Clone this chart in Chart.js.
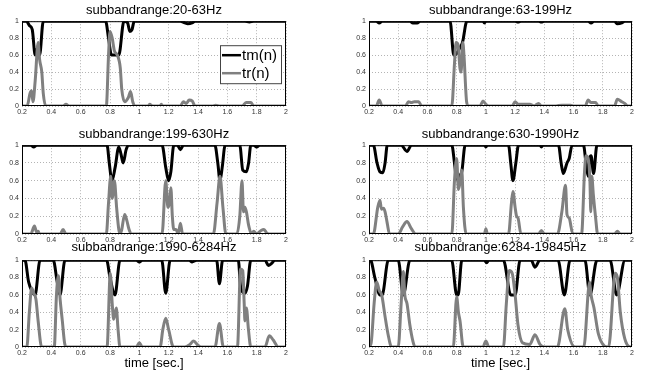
<!DOCTYPE html>
<html>
<head>
<meta charset="utf-8">
<script src="https://cdn.jsdelivr.net/npm/chart.js@4"></script>
<style>
  body { margin: 0; background: #fff; font-family: "Liberation Sans", Arial, sans-serif; }
  #wrap { position: relative; width: 650px; height: 378px; overflow: hidden; }
  canvas { position: absolute; }
  .ttl { position: absolute; font-size: 13px; color: #000; text-align: center; white-space: nowrap; line-height: 14px; }
</style>
</head>
<body>
<div id="wrap"></div>
<script>
// tick labels
const xTicks = [0.2, 0.4, 0.6, 0.8, 1, 1.2, 1.4, 1.6, 1.8, 2];
const yTicks = [0, 0.2, 0.4, 0.6, 0.8, 1];

const bandTitles = [
    "subbandrange:20-63Hz", "subbandrange:63-199Hz",
    "subbandrange:199-630Hz", "subbandrange:630-1990Hz",
    "subbandrange:1990-6284Hz", "subbandrange:6284-19845Hz"
];
const seriesNames = ["tm(n)", "tr(n)"];

// [time, value]
const tm1 = [[0.2,1],[0.23,1],[0.25,0.95],[0.27,0.9],[0.29,0.6],[0.305,0.68],[0.32,0.6],[0.345,1],[0.77,1],[0.79,0.8],[0.81,0.6],[0.86,0.6],[0.895,1],[0.92,0.98],[0.935,0.88],[0.95,0.9],[0.965,1],[1.28,1],[1.31,0.98],[1.33,0.97],[1.36,0.98],[1.38,1],[1.72,1],[1.75,0.99],[1.78,1],[2,1]];
const tr1 = [[0.2,0],[0.235,0],[0.255,0.15],[0.265,0.18],[0.275,0.05],[0.29,0.3],[0.31,0.75],[0.32,0.55],[0.335,0.4],[0.345,0.15],[0.362,0],[0.48,0],[0.5,0.02],[0.52,0],[0.775,0],[0.79,0.6],[0.8,0.88],[0.815,0.8],[0.83,0.65],[0.85,0.6],[0.87,0.45],[0.88,0.2],[0.9,0.05],[0.925,0.1],[0.94,0.17],[0.955,0.05],[0.97,0],[1.06,0],[1.07,0.02],[1.09,0],[1.14,0],[1.15,0.02],[1.16,0],[1.28,0],[1.3,0.05],[1.32,0.03],[1.34,0.07],[1.36,0.06],[1.38,0],[1.5,0],[1.52,0.01],[1.55,0],[1.7,0],[1.73,0.04],[1.76,0.04],[1.78,0],[2,0]];

const tm2 = [[0.2,1],[0.25,1],[0.27,0.98],[0.29,1],[0.48,1],[0.5,0.98],[0.53,0.98],[0.55,1],[0.755,1],[0.78,0.6],[0.8,0.62],[0.82,0.68],[0.84,0.75],[0.87,1],[0.98,1],[0.99,0.98],[1.0,1],[1.2,1],[1.22,0.99],[1.24,1],[1.36,1],[1.38,0.99],[1.4,1],[1.7,1],[1.72,0.98],[1.74,1],[1.88,1],[1.9,0.97],[1.93,0.98],[1.95,1],[2,1]];
const tr2 = [[0.2,0],[0.25,0],[0.27,0.07],[0.29,0],[0.45,0],[0.47,0.05],[0.49,0.04],[0.51,0.05],[0.54,0.05],[0.56,0],[0.767,0],[0.785,0.5],[0.796,0.75],[0.81,0.72],[0.822,0.45],[0.83,0.4],[0.842,0.75],[0.85,0.6],[0.868,0.05],[0.88,0],[0.96,0],[0.98,0.06],[1.0,0.02],[1.02,0],[1.18,0],[1.2,0.05],[1.22,0.02],[1.27,0.02],[1.3,0.02],[1.33,0],[1.36,0.03],[1.38,0],[1.48,0],[1.52,0.01],[1.58,0.01],[1.6,0],[1.68,0],[1.7,0.07],[1.72,0.04],[1.75,0.04],[1.77,0],[1.88,0],[1.9,0.08],[1.93,0.05],[1.95,0.03],[1.97,0],[2,0]];

const tm3 = [[0.2,1],[0.26,1],[0.28,0.98],[0.3,1],[0.78,1],[0.795,0.8],[0.813,0.6],[0.835,0.75],[0.86,0.98],[0.875,0.9],[0.89,0.8],[0.91,0.95],[0.925,1],[1.155,1],[1.18,0.75],[1.2,0.6],[1.215,0.7],[1.235,1],[1.26,1],[1.28,0.95],[1.3,1],[1.515,1],[1.535,0.8],[1.55,0.6],[1.565,0.75],[1.585,1],[1.685,1],[1.705,0.72],[1.73,0.7],[1.745,0.8],[1.76,1],[1.78,1],[1.8,0.98],[1.82,1],[2,1]];
const tr3 = [[0.2,0],[0.26,0],[0.285,0.09],[0.3,0.02],[0.31,0.03],[0.32,0],[0.46,0],[0.48,0.05],[0.5,0],[0.775,0],[0.79,0.35],[0.805,0.65],[0.815,0.4],[0.83,0.6],[0.845,0.3],[0.86,0.05],[0.87,0],[0.88,0.05],[0.9,0.22],[0.915,0.15],[0.93,0.05],[0.945,0],[1.155,0],[1.18,0.6],[1.195,0.3],[1.205,0.35],[1.215,0.52],[1.225,0.2],[1.235,0.05],[1.25,0.05],[1.265,0],[1.28,0.12],[1.295,0],[1.505,0],[1.53,0.35],[1.55,0.65],[1.57,0.3],[1.59,0],[1.665,0],[1.685,0.2],[1.7,0.6],[1.71,0.25],[1.72,0.3],[1.73,0.25],[1.745,0.1],[1.765,0],[1.78,0.03],[1.8,0],[1.83,0.04],[1.85,0.05],[1.87,0.01],[1.89,0],[2,0]];

const tm4 = [[0.2,1],[0.23,1],[0.255,0.8],[0.275,0.7],[0.295,0.69],[0.31,0.8],[0.325,1],[0.42,1],[0.46,0.93],[0.49,1],[0.767,1],[0.785,0.8],[0.8,0.62],[0.82,0.66],[0.835,0.7],[0.858,1],[0.99,1],[1.0,0.98],[1.01,1],[1.155,1],[1.17,0.8],[1.185,0.6],[1.205,0.8],[1.223,1],[1.37,1],[1.38,0.98],[1.39,1],[1.497,1],[1.515,0.8],[1.53,0.68],[1.555,0.8],[1.57,0.85],[1.59,1],[1.668,1],[1.685,0.8],[1.7,0.65],[1.71,0.85],[1.72,0.88],[1.737,0.68],[1.76,1],[2,1]];
const tr4 = [[0.2,0],[0.23,0],[0.26,0.3],[0.275,0.38],[0.285,0.28],[0.3,0.29],[0.31,0.25],[0.325,0.12],[0.34,0],[0.4,0],[0.43,0.08],[0.46,0.14],[0.49,0.06],[0.52,0],[0.767,0],[0.785,0.6],[0.8,0.85],[0.812,0.5],[0.825,0.6],[0.835,0.72],[0.846,0.3],[0.865,0],[0.99,0],[1.0,0.06],[1.01,0],[1.155,0],[1.175,0.35],[1.185,0.48],[1.2,0.3],[1.21,0.2],[1.22,0.18],[1.24,0],[1.36,0],[1.38,0.04],[1.4,0],[1.49,0],[1.52,0.25],[1.545,0.55],[1.555,0.22],[1.57,0.18],[1.595,0],[1.655,0],[1.675,0.7],[1.685,0.88],[1.7,0.85],[1.712,0.6],[1.718,0.25],[1.725,0.65],[1.735,0.45],[1.75,0.2],[1.765,0],[1.88,0],[1.9,0.03],[1.92,0],[2,0]];

const tm5 = [[0.2,1],[0.22,1],[0.245,0.75],[0.266,0.65],[0.289,0.6],[0.323,1],[0.413,1],[0.44,0.75],[0.459,0.6],[0.493,1],[0.777,1],[0.8,0.8],[0.834,0.6],[0.868,1],[0.98,1],[1.0,0.98],[1.02,1],[1.153,1],[1.18,0.62],[1.21,1],[1.34,1],[1.36,0.98],[1.39,1],[1.527,1],[1.546,0.73],[1.568,1],[1.675,1],[1.69,0.7],[1.72,0.62],[1.737,0.7],[1.76,1],[1.857,1],[1.88,0.94],[1.9,0.96],[1.925,1],[2,1]];
const tr5 = [[0.2,0],[0.233,0],[0.25,0.4],[0.266,0.68],[0.28,0.62],[0.295,0.55],[0.31,0.3],[0.334,0],[0.42,0],[0.435,0.6],[0.448,0.82],[0.46,0.55],[0.475,0.3],[0.49,0.05],[0.5,0],[0.78,0],[0.802,0.85],[0.815,0.5],[0.825,0.32],[0.843,0.45],[0.855,0.2],[0.868,0],[0.98,0],[1.0,0.05],[1.02,0],[1.142,0],[1.16,0.2],[1.18,0.33],[1.2,0.2],[1.233,0],[1.31,0],[1.345,0.03],[1.37,0.07],[1.4,0.02],[1.42,0],[1.516,0],[1.546,0.27],[1.573,0],[1.669,0],[1.69,0.9],[1.705,0.88],[1.715,0.5],[1.72,0.3],[1.73,0.45],[1.744,0.2],[1.76,0],[1.857,0],[1.886,0.13],[1.913,0.08],[1.947,0],[2,0]];

const tm6 = [[0.2,1],[0.21,1],[0.24,0.8],[0.275,0.6],[0.29,0.6],[0.332,1],[0.4,1],[0.435,0.6],[0.48,1],[0.766,1],[0.8,0.6],[0.81,0.6],[0.835,1],[0.99,1],[1.005,0.97],[1.02,1],[1.12,1],[1.17,0.6],[1.2,0.6],[1.234,1],[1.31,1],[1.336,0.92],[1.37,1],[1.494,1],[1.537,0.6],[1.576,1],[1.678,1],[1.712,0.6],[1.76,1],[1.85,1],[1.895,0.6],[1.952,1],[2,1]];
const tr6 = [[0.2,0],[0.215,0.05],[0.235,0.5],[0.253,0.75],[0.27,0.65],[0.287,0.6],[0.31,0.35],[0.33,0.15],[0.355,0],[0.4,0],[0.42,0.5],[0.435,0.87],[0.445,0.6],[0.46,0.5],[0.48,0.25],[0.5,0.07],[0.515,0],[0.777,0],[0.8,0.58],[0.812,0.4],[0.823,0.3],[0.845,0],[0.98,0],[1.0,0.07],[1.02,0],[1.12,0],[1.14,0.5],[1.16,0.88],[1.18,0.85],[1.2,0.6],[1.22,0.25],[1.25,0.05],[1.3,0.03],[1.336,0.14],[1.37,0.03],[1.4,0],[1.49,0],[1.54,0.44],[1.56,0.2],[1.61,0],[1.67,0],[1.71,0.75],[1.72,0.6],[1.74,0.45],[1.77,0.15],[1.83,0],[1.84,0],[1.885,0.85],[1.9,0.8],[1.92,0.4],[1.95,0.1],[1.99,0],[2,0]];

// where each axes box sits on the page
const panels = [
    { tm: tm1, tr: tr1, left: 22,  top: 20,  w: 264, h: 86, legend: true },
    { tm: tm2, tr: tr2, left: 369, top: 20,  w: 263, h: 86 },
    { tm: tm3, tr: tr3, left: 22,  top: 144, w: 264, h: 90 },
    { tm: tm4, tr: tr4, left: 369, top: 144, w: 263, h: 90 },
    { tm: tm5, tr: tr5, left: 22,  top: 259, w: 264, h: 88, xlabel: true },
    { tm: tm6, tr: tr6, left: 369, top: 259, w: 263, h: 88, xlabel: true }
];
const titleY = [10, 134, 247];

const YW = 22, XH = 12, PT = 6, PR = 10;
const tmColor = "#000000", trColor = "#808080";

Chart.defaults.font.family = "'Liberation Sans', Arial, sans-serif";

// axes box + matlab-like legend
const framePlugin = {
    id: "frame",
    afterDraw(chart, args, opts) {
        const a = chart.chartArea, ctx = chart.ctx;
        ctx.save();
        ctx.strokeStyle = "#000";
        ctx.lineWidth = 1;
        ctx.strokeRect(a.left + 0.5, a.top + 0.5, a.right - a.left - 1, a.bottom - a.top - 1);
        if (opts.legend) {
            const bx = a.right - 66, by = a.top + 24, bw = 61, bh = 38;
            ctx.fillStyle = "#fff";
            ctx.fillRect(bx, by, bw, bh);
            ctx.strokeStyle = "#444";
            ctx.strokeRect(bx + 0.5, by + 0.5, bw, bh);
            ctx.font = "15px 'Liberation Sans', Arial, sans-serif";
            ctx.textBaseline = "middle";
            chart.data.datasets.forEach((ds, k) => {
                const yy = by + 10 + k * 18;
                ctx.strokeStyle = ds.borderColor;
                ctx.lineWidth = 2.5;
                ctx.beginPath();
                ctx.moveTo(bx + 2, yy);
                ctx.lineTo(bx + 21, yy);
                ctx.stroke();
                ctx.fillStyle = "#000";
                ctx.fillText(ds.label, bx + 22, yy + 1);
            });
        }
        ctx.restore();
    }
};

const wrap = document.getElementById("wrap");
const fmt = v => String(+Number(v).toFixed(1));

panels.forEach((p, i) => {
    const cv = document.createElement("canvas");
    const cw = YW + p.w + PR, ch = PT + p.h + XH;
    cv.width = cw; cv.height = ch;
    cv.style.left = (p.left - YW) + "px";
    cv.style.top = (p.top - PT) + "px";
    cv.style.width = cw + "px";
    cv.style.height = ch + "px";
    wrap.appendChild(cv);

    const t = document.createElement("div");
    t.className = "ttl";
    t.textContent = bandTitles[i];
    t.style.left = p.left + "px";
    t.style.width = p.w + "px";
    t.style.top = (titleY[Math.floor(i / 2)] - 7) + "px";
    wrap.appendChild(t);

    if (p.xlabel) {
        const xl = document.createElement("div");
        xl.className = "ttl";
        xl.textContent = "time [sec.]";
        xl.style.left = p.left + "px";
        xl.style.width = p.w + "px";
        xl.style.top = "356px";
        wrap.appendChild(xl);
    }

    new Chart(cv, {
        type: "line",
        data: {
            datasets: [
                { label: seriesNames[0], data: p.tm.map(d => ({ x: d[0], y: d[1] })),
                  borderColor: tmColor, borderWidth: 3, order: 2 },
                { label: seriesNames[1], data: p.tr.map(d => ({ x: d[0], y: d[1] })),
                  borderColor: trColor, borderWidth: 3, order: 1 }
            ]
        },
        options: {
            responsive: false,
            animation: false,
            devicePixelRatio: 1,
            layout: { padding: { top: PT, right: PR, left: 0, bottom: 0 } },
            elements: { point: { radius: 0 }, line: { cubicInterpolationMode: "monotone" } },
            plugins: {
                legend: { display: false },
                tooltip: { enabled: false },
                frame: { legend: !!p.legend }
            },
            scales: {
                x: {
                    type: "linear", min: 0.2, max: 2,
                    afterBuildTicks: s => { s.ticks = xTicks.map(v => ({ value: v })); },
                    afterFit: s => { s.height = XH; },
                    grid: { color: "#b4b4b4", lineWidth: 1, drawTicks: false },
                    border: { display: false, dash: [1, 2] },
                    ticks: { padding: 2, color: "#333", font: { size: 7 }, maxRotation: 0, autoSkip: false, callback: fmt }
                },
                y: {
                    min: 0, max: 1,
                    afterBuildTicks: s => { s.ticks = yTicks.map(v => ({ value: v })); },
                    afterFit: s => { s.width = YW; },
                    grid: { color: "#b4b4b4", lineWidth: 1, drawTicks: false },
                    border: { display: false, dash: [1, 2] },
                    ticks: { padding: 3, color: "#333", font: { size: 7 }, autoSkip: false, callback: fmt }
                }
            }
        },
        plugins: [framePlugin]
    });
});
</script>
</body>
</html>
